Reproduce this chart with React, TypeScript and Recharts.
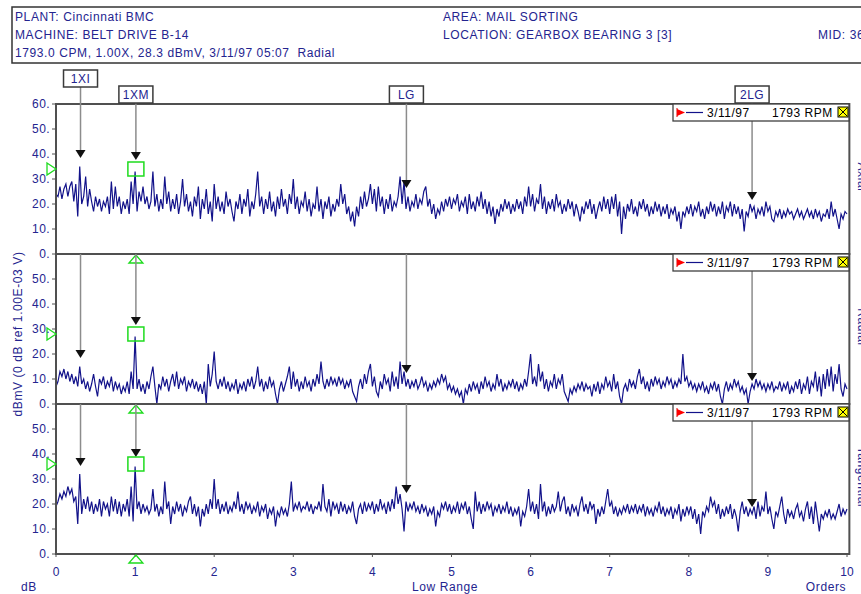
import React from 'react';
import { LineChart, Line, XAxis, YAxis, ReferenceLine, ReferenceDot, ReferenceArea } from 'recharts';

const ORDER_STEP = 0.025;
const X_TICKS = [0, 1, 2, 3, 4, 5, 6, 7, 8, 9, 10];
const Y_TICKS_TOP = [0, 10, 20, 30, 40, 50, 60];
const Y_TICKS_LOWER = [0, 10, 20, 30, 40, 50];

// Axial spectrum (dBmV), one row per order
const AXIAL = [
  24,23,27,22,26,28,23,27,29,21,28,15,35,20,23,31,19,26,21,17,23,19,22,17,21,19,23,16,29,18,27,19,23,16,21,18,22,16,29,20,
  33,17,25,21,27,20,23,18,21,33,19,24,17,22,18,31,20,25,17,22,18,24,16,21,30,19,24,17,21,15,23,19,27,14,22,18,26,16,21,13,
  28,18,23,17,21,16,25,19,22,17,13,21,18,24,16,22,19,26,15,21,18,24,33,19,23,16,22,18,25,17,21,15,23,18,26,19,22,16,24,20,
  30,18,23,16,21,19,25,17,22,15,20,18,27,17,22,14,21,18,23,15,20,17,22,19,28,20,24,16,19,13,17,11,19,15,23,18,25,19,22,28,
  20,26,17,27,19,23,16,22,18,24,17,21,19,23,31,20,29,18,23,17,21,19,24,18,22,20,25,27,19,22,16,20,14,18,16,21,17,22,19,23,
  18,22,20,24,17,21,19,23,16,24,18,21,17,23,19,25,18,22,16,21,15,19,12,18,15,20,17,22,18,21,16,20,17,22,18,21,16,23,19,27,
  19,24,17,22,20,28,18,23,16,21,18,22,17,24,19,21,16,20,17,22,18,21,15,20,17,13,19,16,21,18,22,16,20,14,18,21,17,23,18,22,
  16,23,18,24,15,21,8,19,14,20,17,22,16,19,15,21,18,22,17,20,15,19,16,21,17,20,15,19,16,20,14,18,16,19,13,17,10,17,15,19,
  16,20,15,19,17,21,15,18,14,19,16,21,17,20,15,19,16,21,14,19,17,21,15,20,16,19,14,18,9,17,15,20,17,19,14,18,16,19,15,21,
  17,19,14,13,17,15,18,14,17,15,18,16,17,14,16,18,15,17,14,16,18,15,17,14,18,15,17,13,16,15,18,14,21,15,18,14,10,16,14,17,
  16,
];

// Radial spectrum (dBmV)
const RADIAL = [
  7,9,13,11,14,10,13,9,12,8,11,7,15,8,10,6,9,5,8,12,7,3,10,8,11,6,9,7,11,5,9,6,8,4,7,5,9,4,13,6,
  27,6,10,5,8,4,9,6,11,15,7,0,8,6,11,7,10,5,9,12,7,13,6,10,8,11,5,9,7,10,6,9,5,8,4,9,0,16,7,12,
  21,9,6,10,7,11,6,9,5,8,6,10,4,8,6,9,5,10,7,11,6,9,15,7,10,5,9,6,11,7,9,4,0,6,9,5,8,11,15,6,
  13,7,10,5,9,6,11,7,9,5,10,7,12,8,17,9,6,10,7,11,8,10,7,11,8,10,6,9,7,10,5,3,1,7,10,6,12,8,13,16,
  7,11,5,3,9,6,12,8,10,5,13,7,11,6,17,8,13,7,10,6,9,7,10,6,8,11,7,9,5,8,6,9,7,10,8,12,9,11,6,8,
  5,7,4,6,3,5,0,6,4,8,5,9,6,8,4,9,6,11,7,9,5,8,6,12,7,10,5,8,6,9,7,10,6,9,5,8,6,10,7,13,
  20,8,11,7,16,9,13,6,10,5,9,7,12,6,10,8,12,5,3,1,6,4,7,5,8,6,9,5,8,6,7,3,8,5,9,4,8,6,11,7,
  9,5,12,6,9,3,0,6,8,5,10,7,9,6,11,14,8,11,6,9,5,10,7,11,8,10,6,9,7,11,8,10,6,9,7,10,8,20,9,11,
  7,9,6,8,5,8,6,9,5,7,4,8,6,9,5,8,3,0,6,9,5,8,6,10,7,9,5,7,4,6,0,5,8,6,10,7,9,6,8,5,
  8,6,9,5,7,6,9,5,8,6,9,4,7,5,9,6,10,4,8,6,11,4,9,7,13,5,11,3,12,6,14,7,15,5,12,8,16,6,3,8,
  6,
];

// Tangential spectrum (dBmV)
const TANGENTIAL = [
  19,21,24,22,25,23,27,24,26,21,23,12,32,16,22,18,23,17,21,16,20,17,22,15,21,18,20,15,23,17,22,16,21,15,20,17,22,15,27,13,
  35,18,21,16,20,17,19,16,18,26,17,20,15,19,16,29,18,21,12,19,16,21,17,20,15,19,17,21,23,16,20,15,19,11,18,15,20,16,22,18,
  30,18,22,16,20,17,21,16,19,17,21,18,25,17,20,16,21,18,20,16,19,17,21,15,19,17,20,14,18,16,19,11,17,15,19,16,18,15,20,29,
  17,20,18,21,17,19,18,21,17,20,16,19,18,21,17,28,19,17,22,15,21,18,20,16,21,17,20,16,19,17,21,15,12,18,20,16,21,17,20,18,
  21,16,20,17,22,18,20,16,21,17,22,18,27,20,24,18,9,21,17,20,18,21,17,19,16,20,17,19,15,18,16,19,11,17,15,20,18,21,17,20,
  16,19,17,21,16,20,18,21,16,19,14,10,25,17,21,16,20,17,21,18,20,15,19,17,20,16,19,17,21,16,19,15,18,16,19,11,17,15,19,26,
  17,21,16,20,14,28,17,21,15,19,16,20,17,19,25,17,21,23,16,19,15,20,17,19,15,20,23,17,20,16,21,18,20,12,18,15,19,16,21,26,
  19,21,16,19,15,18,16,19,17,20,16,19,17,20,16,19,17,20,15,19,16,18,15,19,17,21,16,19,15,18,16,19,14,18,16,20,13,18,15,19,
  16,19,14,18,12,16,8,17,15,19,17,23,19,21,16,20,14,18,15,19,16,20,14,18,15,9,17,21,16,19,15,18,16,19,14,21,15,19,17,25,
  16,19,14,10,17,15,19,23,16,12,18,15,17,14,18,20,15,17,13,18,21,14,19,12,21,15,9,16,14,17,15,18,14,16,14,17,20,15,18,16,
  18,
];

const MARKER_NAMES = ['1XI', '1XM', 'LG', '2LG'];
const MARKER_ORDERS = [0.31, 1.01, 4.43, 8.8];
const AXIAL_ARROWS = [38.4, 37.6, 26.4, 21.6];
const RADIAL_ARROWS = [18.4, 31.6, 12.4, 9.2];
const TANGENTIAL_ARROWS = [35.2, 38.8, 24.4, 18.8];
const REFERENCE_LEVELS = [34, 28, 36];
const PANEL_NAMES = ['Axial', 'Radial', 'Tangential'];
const LEGEND_DATE = '3/11/97';
const LEGEND_RPM = '1793 RPM';

const rows = AXIAL.map((v, i) => ({
  x: i * ORDER_STEP,
  axial: v,
  radial: RADIAL[i],
  tangential: TANGENTIAL[i],
}));

const NAVY = '#24248f';
const LINE = '#12128a';
const FRAME = '#505050';
const GREEN = '#1edc1e';
const FONT = 'Arial, "Liberation Sans", sans-serif';

const W = 861;
const H = 594;
const PLOT_H = 150;

const arrowShape = (p: any) => (
  <path d={`M${p.cx - 5},${p.cy - 8} L${p.cx + 5},${p.cy - 8} L${p.cx},${p.cy} Z`} fill="#111" />
);
const squareShape = (p: any) => (
  <rect x={p.cx - 8} y={p.cy - 7} width={16} height={14} fill="none" stroke={GREEN} strokeWidth={1.5} />
);
const leftTriShape = (p: any) => (
  <path d={`M${p.cx - 9},${p.cy - 6} L${p.cx},${p.cy} L${p.cx - 9},${p.cy + 6} Z`} fill="none" stroke={GREEN} strokeWidth={1.3} />
);
const upTriShape = (p: any) => (
  <path d={`M${p.cx},${p.cy + 1} L${p.cx + 7},${p.cy + 9} L${p.cx - 7},${p.cy + 9} Z`} fill="none" stroke={GREEN} strokeWidth={1.3} />
);
const labelBoxShape = (name: string, raised: boolean) => (p: any) => {
  const bottom = raised ? p.cy - 17 : p.cy - 1;
  const top = bottom - 17;
  return (
    <g>
      <rect x={p.cx - 17} y={top} width={34} height={17} fill="#fff" stroke="#3a3a3a" strokeWidth={1.5} />
      <text x={p.cx} y={top + 13} textAnchor="middle" fill={NAVY} fontSize={12} fontFamily={FONT} letterSpacing={0.5}>
        {name}
      </text>
    </g>
  );
};

function Panel(props: {
  dataKey: string;
  top: number;
  arrows: number[];
  level: number;
  first: boolean;
  last: boolean;
}) {
  const { dataKey, top, arrows, level, first, last } = props;
  const plotBottom = top + PLOT_H;
  const bottomMargin = last ? H - plotBottom - 30 : H - plotBottom;
  return (
    <div style={{ position: 'absolute', left: 0, top: 0 }}>
      <LineChart width={W} height={H} data={rows} margin={{ top, right: 14, left: 0, bottom: bottomMargin }}>
        <XAxis
          dataKey="x"
          type="number"
          domain={[0, 10]}
          ticks={X_TICKS}
          hide={!last}
          height={30}
          interval={0}
          axisLine={{ stroke: FRAME, strokeWidth: 2 }}
          tickLine={{ stroke: FRAME }}
          tickSize={3}
          tickMargin={10}
          tick={{ fill: NAVY, fontSize: 12, fontFamily: FONT }}
        />
        <YAxis
          type="number"
          domain={[0, 60]}
          ticks={first ? Y_TICKS_TOP : Y_TICKS_LOWER}
          interval={0}
          width={56}
          axisLine={{ stroke: FRAME, strokeWidth: 2 }}
          tickLine={{ stroke: FRAME }}
          tickSize={4}
          tickMargin={2}
          tickFormatter={(v: number) => `${v}.`}
          tick={{ fill: NAVY, fontSize: 12, fontFamily: FONT, letterSpacing: 0.4 }}
        />
        <ReferenceArea x1={0} x2={10.03} y1={0} y2={60} fill="none" stroke={FRAME} strokeWidth={2} ifOverflow="visible" />
        {MARKER_ORDERS.map((mx, i) => (
          <ReferenceLine
            key={`l${i}`}
            segment={[
              { x: mx, y: first ? (i === 0 ? 66.8 : 60.4) : 60 },
              { x: mx, y: arrows[i] + 3.2 },
            ]}
            stroke="#8c8c8c"
            strokeWidth={1.5}
            ifOverflow="visible"
          />
        ))}
        <Line
          dataKey={dataKey}
          type="linear"
          stroke={LINE}
          strokeWidth={1.2}
          dot={false}
          activeDot={false}
          isAnimationActive={false}
        />
        {MARKER_ORDERS.map((mx, i) => (
          <ReferenceDot key={`a${i}`} x={mx} y={arrows[i]} shape={arrowShape} ifOverflow="visible" />
        ))}
        {first &&
          MARKER_ORDERS.map((mx, i) => (
            <ReferenceDot key={`b${i}`} x={mx} y={60} shape={labelBoxShape(MARKER_NAMES[i], i === 0)} ifOverflow="visible" />
          ))}
        <ReferenceDot x={MARKER_ORDERS[1]} y={level} shape={squareShape} ifOverflow="visible" />
        <ReferenceDot x={0} y={level} shape={leftTriShape} ifOverflow="visible" />
        <ReferenceDot x={MARKER_ORDERS[1]} y={0} shape={upTriShape} ifOverflow="visible" />
      </LineChart>
    </div>
  );
}

function LegendBox({ top }: { top: number }) {
  return (
    <g>
      <rect x={673} y={top} width={176} height={17} fill="#fff" stroke="#404040" strokeWidth={1.3} />
      <line x1={677} y1={top + 4} x2={677} y2={top + 13} stroke="#e00000" strokeWidth={1} />
      <path d={`M677,${top + 5} L685,${top + 8.5} L677,${top + 12} Z`} fill="#ff0000" />
      <line x1={686} y1={top + 8.5} x2={703} y2={top + 8.5} stroke={LINE} strokeWidth={1.2} />
      <text x={707} y={top + 13} fill="#000" fontSize={12} fontFamily={FONT} letterSpacing={0.5}>{LEGEND_DATE}</text>
      <text x={772} y={top + 13} fill="#000" fontSize={12} fontFamily={FONT} letterSpacing={0.5}>{LEGEND_RPM}</text>
      <rect x={838} y={top + 3} width={10} height={10} fill="#ffff00" stroke="#000" strokeWidth={1} />
      <line x1={839} y1={top + 4} x2={847} y2={top + 12} stroke="#000" strokeWidth={1} />
      <line x1={847} y1={top + 4} x2={839} y2={top + 12} stroke="#000" strokeWidth={1} />
    </g>
  );
}

export default function App() {
  const panelTops = [104, 254, 404];
  const arrowSets = [AXIAL_ARROWS, RADIAL_ARROWS, TANGENTIAL_ARROWS];
  const keys = ['axial', 'radial', 'tangential'];
  const textStyle = { fill: NAVY, fontSize: 12, fontFamily: FONT, letterSpacing: 0.6 } as any;
  return (
    <div style={{ position: 'absolute', left: 0, top: 0, width: W, height: H, overflow: 'hidden', background: '#fff' }}>
      {keys.map((k, i) => (
        <Panel
          key={k}
          dataKey={k}
          top={panelTops[i]}
          arrows={arrowSets[i]}
          level={REFERENCE_LEVELS[i]}
          first={i === 0}
          last={i === 2}
        />
      ))}
      <svg width={W} height={H} style={{ position: 'absolute', left: 0, top: 0, pointerEvents: 'none' }}>
        <rect x={12} y={7} width={900} height={56} fill="#fff" stroke="#333" strokeWidth={1.5} />
        <text x={15} y={21} {...textStyle}>PLANT: Cincinnati BMC</text>
        <text x={15} y={39} {...textStyle}>MACHINE: BELT DRIVE B-14</text>
        <text x={15} y={57} {...textStyle} style={{ whiteSpace: 'pre' }}>{'1793.0 CPM, 1.00X, 28.3 dBmV, 3/11/97 05:07  Radial'}</text>
        <text x={443} y={21} {...textStyle}>AREA: MAIL SORTING</text>
        <text x={443} y={39} {...textStyle}>LOCATION: GEARBOX BEARING 3 [3]</text>
        <text x={818} y={39} {...textStyle}>MID: 36</text>
        {panelTops.map((t) => (
          <LegendBox key={t} top={t} />
        ))}
        <text
          x={18}
          y={334}
          transform="rotate(-90, 18, 334)"
          textAnchor="middle"
          dominantBaseline="central"
          {...textStyle}
        >
          dBmV (0 dB ref 1.00E-03 V)
        </text>
        {PANEL_NAMES.map((n, i) => (
          <text
            key={n}
            x={856}
            y={panelTops[i] + 73}
            transform={`rotate(90, 856, ${panelTops[i] + 73})`}
            textAnchor="middle"
            {...textStyle}
            dy={-2}
          >
            {n}
          </text>
        ))}
        <text x={29} y={591} textAnchor="middle" {...textStyle}>dB</text>
        <text x={445} y={591} textAnchor="middle" {...textStyle}>Low Range</text>
        <text x={826} y={591} textAnchor="middle" {...textStyle}>Orders</text>
      </svg>
    </div>
  );
}
